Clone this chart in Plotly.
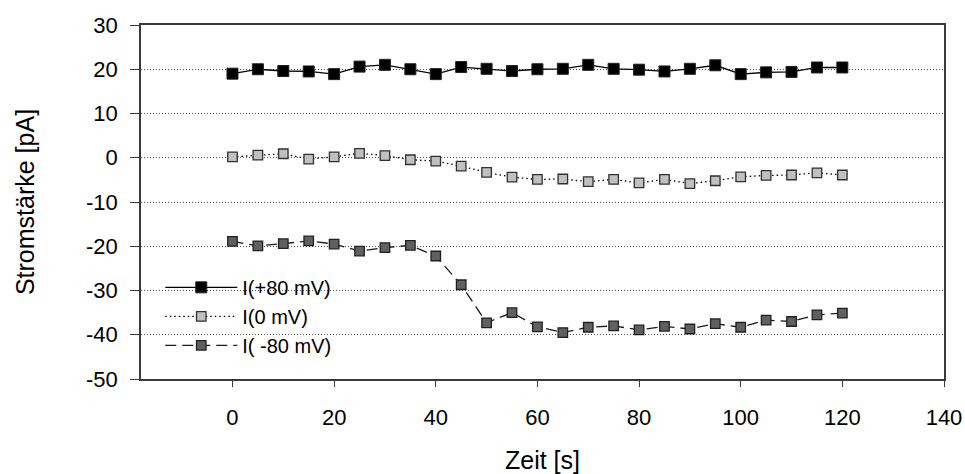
import plotly.graph_objects as go

zeit = [0, 5, 10, 15, 20, 25, 30, 35, 40, 45, 50, 55, 60, 65, 70, 75, 80, 85, 90, 95, 100, 105, 110, 115, 120]
i_plus80 = [19.0, 20.0, 19.6, 19.5, 18.9, 20.6, 21.0, 20.0, 18.9, 20.5, 20.1, 19.6, 20.0, 20.1,
            21.0, 20.1, 19.9, 19.5, 20.1, 20.9, 18.9, 19.3, 19.4, 20.4, 20.4]
i_0 = [0.2, 0.6, 0.9, -0.3, 0.2, 1.0, 0.5, -0.45, -0.75, -1.9, -3.3, -4.4, -4.9, -4.8,
       -5.4, -4.9, -5.7, -4.9, -5.85, -5.2, -4.3, -4.0, -3.9, -3.4, -3.9]
i_minus80 = [-18.9, -19.9, -19.4, -18.8, -19.5, -21.1, -20.3, -19.8, -22.2, -28.7, -37.3, -35.0,
             -38.2, -39.5, -38.3, -38.0, -38.9, -38.1, -38.7, -37.5, -38.3, -36.7, -37.0, -35.5, -35.1]
names = ["I(+80 mV)", "I(0 mV)", "I( -80 mV)"]

x_ticks = [0, 20, 40, 60, 80, 100, 120, 140]
x_ticklabels = ["0", "20", "40", "60", "80", "100", "120", "140"]
y_ticks = [30, 20, 10, 0, -10, -20, -30, -40, -50]
y_ticklabels = ["30", "20", "10", "0", "-10", "-20", "-30", "-40", "-50"]

FONT = "Liberation Sans, Arial, sans-serif"
AXC = "#3a3a3a"

fig = go.Figure()
fig.add_trace(go.Scatter(
    x=zeit, y=i_plus80, name=names[0], mode="lines+markers",
    line=dict(color="black", width=1.3, dash="solid"),
    marker=dict(symbol="square", size=11, color="black", line=dict(color="#222", width=1)),
))
fig.add_trace(go.Scatter(
    x=zeit, y=i_0, name=names[1], mode="lines+markers",
    line=dict(color="black", width=1.3, dash="1.5px,3px"),
    marker=dict(symbol="square", size=9.5, color="#c0c0c0", line=dict(color="#303030", width=1.3)),
))
fig.add_trace(go.Scatter(
    x=zeit, y=i_minus80, name=names[2], mode="lines+markers",
    line=dict(color="#1a1a1a", width=1.3, dash="11px,6px"),
    marker=dict(symbol="square", size=9.5, color="#606060", line=dict(color="#202020", width=1.3)),
))

fig.update_layout(
    width=965, height=474,
    margin=dict(l=141, r=21, t=25, b=95, autoexpand=False),
    paper_bgcolor="white", plot_bgcolor="white",
    font=dict(family=FONT, size=22, color="black"),
    showlegend=True,
    legend=dict(
        x=0.024, y=0.314, xanchor="left", yanchor="top",
        bgcolor="rgba(0,0,0,0)", font=dict(family=FONT, size=20, color="black"),
        itemwidth=72, tracegroupgap=0,
    ),
)
fig.update_xaxes(
    range=[-18, 140], tickmode="array", tickvals=x_ticks, ticktext=x_ticklabels,
    showgrid=False, zeroline=False, automargin=False,
    showline=True, linecolor=AXC, linewidth=1.5, mirror=True,
    ticks="outside", ticklen=6, tickcolor=AXC, tickwidth=1.3,
    ticklabelstandoff=12,
    title=dict(text="Zeit [s]", font=dict(family=FONT, size=25), standoff=22),
    tickfont=dict(family=FONT, size=22),
)
fig.update_yaxes(
    range=[-50, 30], tickmode="array", tickvals=y_ticks, ticktext=y_ticklabels,
    showgrid=True, gridcolor="#555555", griddash="1px,2px", gridwidth=1,
    zeroline=False, automargin=False,
    showline=True, linecolor=AXC, linewidth=1.5, mirror=True,
    ticks="outside", ticklen=9, tickcolor=AXC, tickwidth=1.3,
    ticklabelstandoff=8,
    title=dict(text="Stromstärke [pA]", font=dict(family=FONT, size=25), standoff=44),
    tickfont=dict(family=FONT, size=22),
)

fig.write_html("out.html")
